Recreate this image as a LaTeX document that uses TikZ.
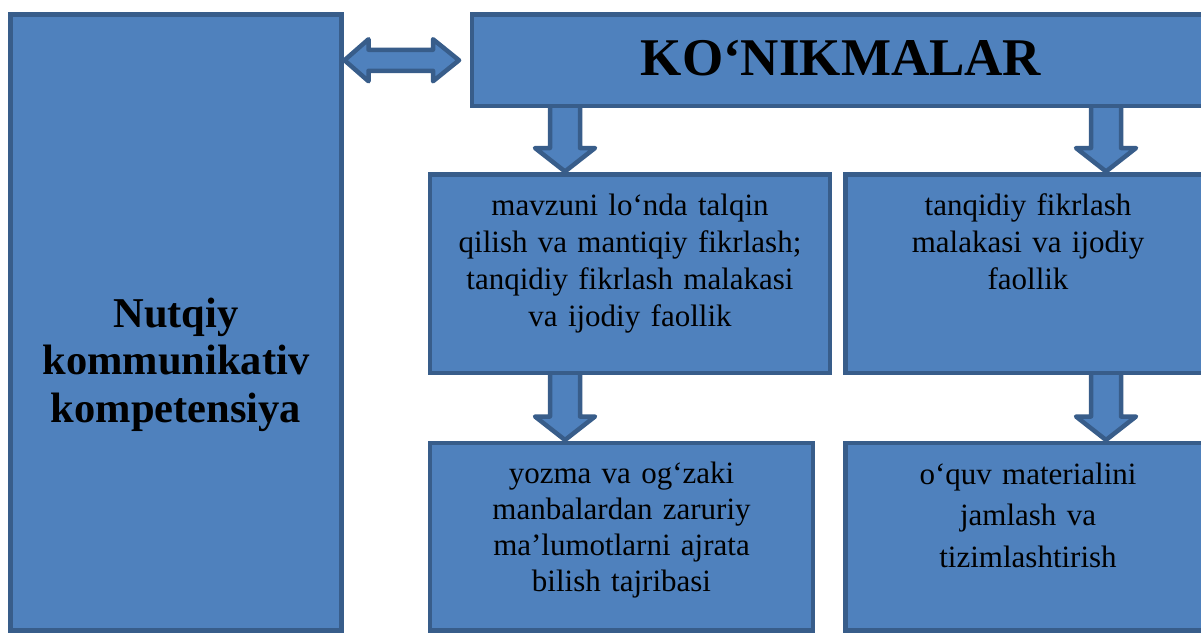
\documentclass[tikz,border=0pt]{standalone}
\usepackage{fontspec}
\setmainfont{Liberation Serif}
\usetikzlibrary{calc,backgrounds}
\definecolor{boxfill}{HTML}{4F81BD}
\definecolor{boxline}{HTML}{385D8A}
\tikzset{
  box/.style={draw=boxline, fill=boxfill, line width=4.5pt, inner sep=0pt, outer sep=0pt, rectangle},
  blk/.style={draw=boxline, fill=boxfill, line width=4.5pt, line join=round},
  txt/.style={inner sep=0pt, outer sep=0pt, align=center, text=black, anchor=base},
}
\newcommand\blkdown[3]{%
  \draw[blk] let \p1=(#1.south), \p2=(#2.north) in
    ({#3pt-15pt},{\y1-2pt}) -- ({#3pt-15pt},{\y2+26.5pt}) -- ({#3pt-30pt},{\y2+26.5pt})
    -- ({#3pt},{\y2+3pt}) -- ({#3pt+30pt},{\y2+26.5pt}) -- ({#3pt+15pt},{\y2+26.5pt})
    -- ({#3pt+15pt},{\y1-2pt});}
\begin{document}
\begin{tikzpicture}[x=1pt,y=-1pt]
\useasboundingbox (0,0) rectangle (1201,632);
\clip (0,0) rectangle (1201,632);
% boxes
\node[box, minimum width=331pt, minimum height=616pt] (left) at (176,322.5) {};
\node[box, minimum width=739pt, minimum height=91.5pt] (top) at (841.5,60.25) {};
\node[box, minimum width=400pt, minimum height=198.5pt] (A) at (630,273.75) {};
\node[box, minimum width=365.5pt, minimum height=198.5pt] (B) at (1028.25,273.75) {};
\node[box, minimum width=383pt, minimum height=187.5pt] (C) at (621.5,536.75) {};
\node[box, minimum width=365.5pt, minimum height=187.5pt] (D) at (1028.25,536.75) {};
% arrows
\begin{scope}[on background layer]
  \fill[white] (0,0) rectangle (1201,632);
  \draw[blk] let \p1=(left.east), \p2=(top.west) in
    ({\x1+3pt},\y2) -- ({\x1+27pt},{\y2+21pt}) -- ({\x1+27pt},{\y2+10.5pt})
    -- ({\x2-39pt},{\y2+10.5pt}) -- ({\x2-39pt},{\y2+21pt}) -- ({\x2-13pt},\y2)
    -- ({\x2-39pt},{\y2-21pt}) -- ({\x2-39pt},{\y2-10.5pt}) -- ({\x1+27pt},{\y2-10.5pt})
    -- ({\x1+27pt},{\y2-21pt}) -- cycle;
  \blkdown{top}{A}{565}
  \blkdown{top}{B}{1106}
  \blkdown{A}{C}{565}
  \blkdown{B}{D}{1106}
\end{scope}
% texts
\node[txt, font=\fontsize{53}{60}\selectfont\bfseries] (t0) at (841,75) {KO‘NIKMALAR};
\node[txt, text width=320pt, font=\fontsize{42.5}{47.5}\selectfont\bfseries] (tl) at (176,327) {Nutqiy\\kommunikativ\\kompetensiya};
\node[txt, text width=390pt, font=\fontsize{31}{37}\selectfont] (tA) at (630,215) {mavzuni lo‘nda talqin\\qilish va mantiqiy fikrlash;\\tanqidiy fikrlash malakasi\\va ijodiy faollik};
\node[txt, text width=350pt, font=\fontsize{31}{37}\selectfont] (tB) at (1028,215) {tanqidiy fikrlash\\malakasi va ijodiy\\faollik};
\node[txt, text width=370pt, font=\fontsize{31}{36}\selectfont] (tC) at (621.5,483) {yozma va og‘zaki\\manbalardan zaruriy\\ma’lumotlarni ajrata\\bilish tajribasi};
\node[txt, text width=350pt, font=\fontsize{31}{41.5}\selectfont] (tD) at (1028,484) {o‘quv materialini\\jamlash va\\tizimlashtirish};
\end{tikzpicture}
\end{document}
